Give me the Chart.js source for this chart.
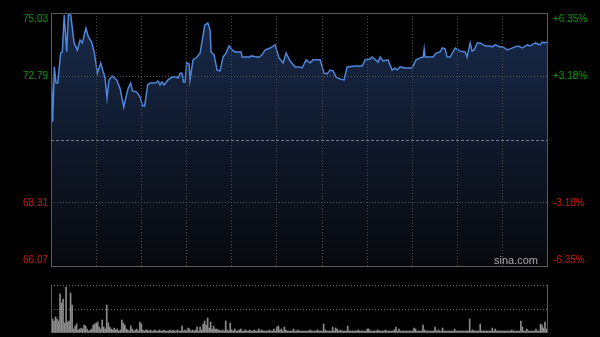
<!DOCTYPE html>
<html><head><meta charset="utf-8">
<script src="https://cdn.jsdelivr.net/npm/chart.js@4"></script>
<style>
html,body{margin:0;padding:0;background:#000;width:600px;height:337px;overflow:hidden}
canvas{position:absolute;left:0;top:0}
</style></head><body>
<canvas id="main" width="600" height="337"></canvas>
<canvas id="vol" width="600" height="337"></canvas>
<script>
// ---- data ----
const prevClose = 70.55;
const priceTicks = [75.03, 72.79, 70.55, 68.31, 66.07];
const leftLabels = ['75.03', '72.79', '', '68.31', '66.07'];
const rightLabels = ['+6.35%', '+3.18%', '', '-3.18%', '-6.35%'];
const timeGrid = [0, 30, 60, 90, 120, 150, 180, 210, 240, 270, 300, 330];

const minutes = [0,1.1,2.2,3.3,4.5,6.4,7.5,8.8,10.4,11.5,13.1,15.3,17.5,19.3,20.8,23.2,24.8,27,28.8,30.8,
33,34.7,35.9,37.2,38.5,40.5,43.6,45.8,48.3,49.8,51.3,52.9,54,56.9,59.1,60.9,62.2,64.2,65.8,69.1,
71.1,72.4,73.7,75.1,77.7,80.4,83,84.4,85.7,87,87.9,89,90.1,91.7,92.3,94.3,97,99,102.1,104.1,
105.6,106.3,108.3,110.3,112.3,114.2,116.2,118.2,120.2,122.2,126.2,126.9,132.2,132.8,136.8,138.2,140,142.1,145.5,146.8,
148.8,151.4,154.1,156.1,158.8,162.1,165.4,166.7,169.4,172,174,178.7,181.3,183.3,185.3,187.3,189.3,192,194.6,196.6,
201.9,206.6,208.6,211.9,213.2,217.2,218.5,220.5,223.8,226.5,228.5,229.8,231.8,235.1,239.8,242.4,245.1,247.1,247.8,248.4,
253.7,255.7,258.4,259.7,261.7,263,265,268.4,271.7,275,276.3,278.3,279.6,281,283,285,288.3,291.6,292.9,294.9,
298.3,300.2,302.9,304.9,308.2,310.2,312.9,316.2,318.2,321.5,324.8,326.1,327.5,329.5];
const prices = [73.31,71.18,73.13,72.55,72.55,73.61,73.65,74.96,73.66,74.96,74.96,73.97,73.72,74.07,73.97,74.50,74.18,74.00,73.61,72.90,
73.26,72.94,72.73,72.02,72.66,72.80,72.66,72.37,71.70,72.06,72.37,72.55,72.27,72.23,72.06,71.74,71.74,72.48,72.55,72.55,
72.62,72.48,72.59,72.48,72.66,72.76,72.76,72.73,72.90,72.90,72.59,72.59,73.26,73.22,72.66,73.37,73.47,73.61,74.60,74.68,
74.43,73.65,73.54,73.01,72.98,73.47,73.61,73.86,73.72,73.65,73.65,73.47,73.47,73.51,73.47,73.47,73.54,73.72,73.79,73.83,
73.90,73.44,73.26,73.61,73.33,73.12,73.12,73.08,73.37,73.26,73.37,73.37,72.90,72.87,73.01,72.98,72.76,72.69,72.66,73.12,
73.15,73.15,73.37,73.40,73.47,73.29,73.47,73.33,73.37,73.01,73.08,73.01,73.12,73.08,73.08,73.37,73.44,73.47,73.76,73.47,
73.47,73.61,73.65,73.79,73.76,73.47,73.47,73.79,73.68,73.65,73.47,73.97,73.68,73.72,73.97,73.97,73.86,73.86,73.83,73.90,
73.83,73.83,73.72,73.76,73.83,73.86,73.79,73.90,73.86,73.97,73.90,74.00,73.97,74.00];

const volumes = [30,14,12,16,14,12,39,30,34,10,
46,11,12,40,28,4,7,9,3,4,
5,4,8,7,4,2,3,4,8,9,
10,11,6,4,13,6,4,28,10,6,
4,3,5,3,4,2,3,13,10,8,
4,3,2,7,4,2,3,4,2,11,
9,3,2,3,3,2,3,2,2,3,
2,2,3,2,2,3,2,2,2,3,
2,3,2,2,3,2,2,7,2,3,
2,5,4,2,3,2,3,6,2,6,
3,9,12,8,15,5,11,4,7,4,
4,3,3,2,3,2,12,3,2,10,
3,2,4,2,2,3,4,2,2,3,
2,2,3,2,2,3,2,2,4,2,
3,2,2,2,2,3,2,2,4,2,
6,7,3,4,2,6,3,2,2,2,
2,4,2,2,3,2,2,2,2,2,
2,2,3,2,2,2,2,3,2,2,
2,9,3,2,2,2,2,6,2,5,
4,2,3,2,2,2,2,7,2,2,
2,2,2,2,3,2,2,2,2,2,
4,4,2,2,2,2,2,3,2,2,
2,2,3,2,2,2,2,2,3,6,
2,4,2,2,2,2,2,2,2,2,
2,5,4,2,2,2,2,8,3,2,
2,2,2,2,2,6,2,3,2,2,
5,2,2,2,2,2,2,2,4,2,
2,2,2,2,2,2,2,2,14,2,
3,2,2,2,2,9,2,2,2,2,
2,2,2,5,2,4,2,2,2,2,
2,2,2,2,2,2,3,2,2,2,
2,2,12,6,2,2,4,2,2,2,
2,2,4,2,2,9,8,5,11,4,
12];

// ---- styles ----
const GREEN = '#0c9a0c', RED = '#cc1a0a';
const FONT = '10px "Liberation Sans", Arial, sans-serif';

const mainPlugin = {
  id: 'mainDeco',
  afterDatasetsDraw(chart) {
    const {ctx, chartArea: ca, scales} = chart;
    const y = Math.round(scales.y.getPixelForValue(prevClose)) + 0.5;
    ctx.save();
    ctx.strokeStyle = '#737a88';
    ctx.lineWidth = 1;
    ctx.setLineDash([3, 2]);
    ctx.beginPath(); ctx.moveTo(ca.left, y); ctx.lineTo(ca.right, y); ctx.stroke();
    ctx.restore();
  },
  afterDraw(chart) {
    const {ctx, chartArea: ca, scales} = chart;
    ctx.save();
    ctx.strokeStyle = '#5a5a5a';
    ctx.lineWidth = 1;
    ctx.strokeRect(ca.left + 0.5, ca.top + 0.5, ca.right - ca.left - 1, ca.bottom - ca.top);
    ctx.font = FONT;
    ctx.textBaseline = 'middle';
    priceTicks.forEach((v, i) => {
      if (!leftLabels[i]) return;
      let y = scales.y.getPixelForValue(v);
      if (i === 0) y += 6;
      if (i === priceTicks.length - 1) y -= 6;
      ctx.fillStyle = v > prevClose ? GREEN : RED;
      ctx.textAlign = 'right';
      ctx.fillText(leftLabels[i], ca.left - 3, y);
      ctx.textAlign = 'left';
      ctx.fillText(rightLabels[i], ca.right + 5, y);
    });
    ctx.fillStyle = '#a8a8a8';
    ctx.font = '11px "Liberation Sans", Arial, sans-serif';
    ctx.textAlign = 'right';
    ctx.fillText('sina.com', ca.right - 10, ca.bottom - 5);
    ctx.restore();
  }
};

new Chart(document.getElementById('main'), {
  type: 'line',
  data: {
    datasets: [{
      data: minutes.map((m, i) => ({x: m, y: prices[i]})),
      borderColor: '#4f86da',
      borderWidth: 1.5,
      pointRadius: 0,
      tension: 0,
      fill: 'start',
      backgroundColor: (c) => {
        const ca = c.chart.chartArea;
        if (!ca) return 'rgba(0,0,0,0)';
        const g = c.chart.ctx.createLinearGradient(0, ca.top, 0, ca.bottom);
        g.addColorStop(0, 'rgba(30,52,92,0.8)');
        g.addColorStop(1, 'rgba(8,10,15,0.85)');
        return g;
      }
    }]
  },
  options: {
    responsive: false, animation: false, devicePixelRatio: 1,
    layout: {padding: {top: 13, bottom: 71, left: 0, right: 52}},
    plugins: {legend: {display: false}, tooltip: {enabled: false}},
    scales: {
      x: {
        type: 'linear', min: 0, max: 330,
        afterBuildTicks: (s) => { s.ticks = timeGrid.map(v => ({value: v})); },
        afterFit: (s) => { s.height = 0; },
        ticks: {display: false},
        grid: {
          z: 1, drawTicks: false, lineWidth: 1,
          color: (c) => (c.tick && (c.tick.value === 0 || c.tick.value === 330)) ? 'rgba(0,0,0,0)' : '#4a4a4a'
        },
        border: {display: false, dash: [1, 2]}
      },
      y: {
        min: 66.07, max: 75.03,
        afterBuildTicks: (s) => { s.ticks = priceTicks.map(v => ({value: v})); },
        afterFit: (s) => { s.width = 51; },
        ticks: {display: false},
        grid: {
          z: 1, drawTicks: false, lineWidth: 1,
          color: (c) => (c.tick && (c.tick.value === 72.79 || c.tick.value === 68.31)) ? '#5a5a5a' : 'rgba(0,0,0,0)'
        },
        border: {display: false, dash: [1, 2]}
      }
    }
  },
  plugins: [mainPlugin]
});

const volPlugin = {
  id: 'volDeco',
  afterDraw(chart) {
    const {ctx, chartArea: ca} = chart;
    ctx.save();
    ctx.strokeStyle = '#5a5a5a';
    ctx.lineWidth = 1;
    ctx.beginPath();
    ctx.moveTo(ca.left + 0.5, ca.top); ctx.lineTo(ca.left + 0.5, ca.bottom);
    ctx.moveTo(ca.right - 0.5, ca.top); ctx.lineTo(ca.right - 0.5, ca.bottom);
    ctx.stroke();
    ctx.restore();
  }
};

new Chart(document.getElementById('vol'), {
  type: 'bar',
  data: {
    datasets: [{
      data: volumes.map((v, i) => ({x: i, y: v})),
      backgroundColor: '#8c8c8c',
      barThickness: 1,
      borderWidth: 0
    }]
  },
  options: {
    responsive: false, animation: false, devicePixelRatio: 1,
    layout: {padding: {top: 285, bottom: 4, left: 51, right: 52}},
    plugins: {legend: {display: false}, tooltip: {enabled: false}},
    scales: {
      x: {type: 'linear', min: 0, max: 330, offset: false, display: false},
      y: {
        min: 0, max: 48,
        afterBuildTicks: (s) => { s.ticks = [0, 24, 48].map(v => ({value: v})); },
        afterFit: (s) => { s.width = 0; },
        ticks: {display: false},
        grid: {
          drawTicks: false, lineWidth: 1,
          color: (c) => (c.tick && c.tick.value === 0) ? 'rgba(0,0,0,0)' : '#6a6a6a'
        },
        border: {display: false, dash: [1, 2]}
      }
    }
  },
  plugins: [volPlugin]
});
</script>
</body></html>
